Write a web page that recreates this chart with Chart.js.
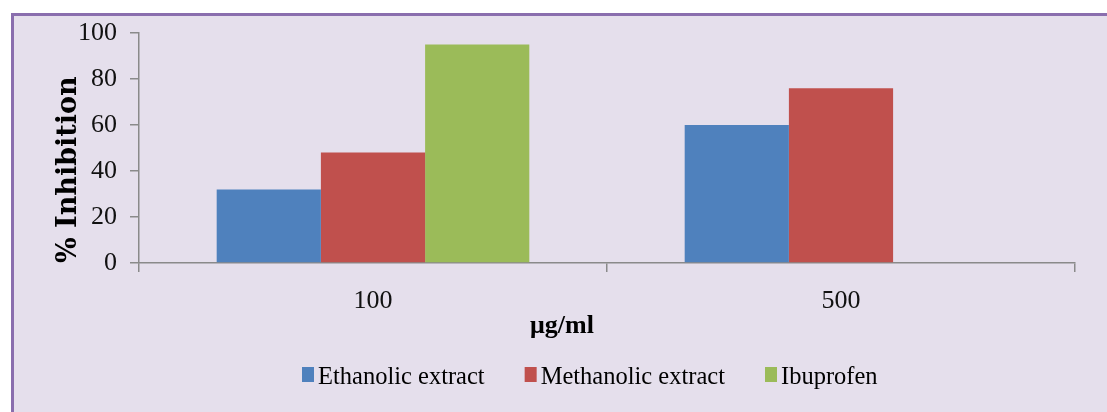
<!DOCTYPE html>
<html>
<head>
<meta charset="utf-8">
<title>% Inhibition</title>
<script src="https://cdn.jsdelivr.net/npm/chart.js@4.4.1/dist/chart.umd.min.js"></script>
<style>
  html, body { margin: 0; padding: 0; background: #ffffff; width: 1107px; height: 412px; overflow: hidden; }
  #panel {
    position: absolute; left: 11px; top: 13px; width: 1200px; height: 500px;
    background: #E5DFEC; border-left: 3px solid #8A6EAE; border-top: 3px solid #8A6EAE;
    box-sizing: border-box;
  }
  #c { position: absolute; left: 0; top: 0; }
</style>
</head>
<body>
<div id="panel"></div>
<canvas id="c" width="1107" height="412"></canvas>
<script>
// Concentrations on the category axis
const categories = ['100', '500'];

// % inhibition per extract
const ethanolic = [32, 60];
const methanolic = [48, 76];
const ibuprofen = [95, null];

const seriesNames = ['Ethanolic extract', 'Methanolic extract', 'Ibuprofen'];
const seriesColors = ['#4F81BD', '#C0504D', '#9BBB59'];

const yTickValues = [0, 20, 40, 60, 80, 100];
const xTitle = 'μg/ml';
const yTitle = '% Inhibition';

const seriesValues = [ethanolic, methanolic, ibuprofen];
const axisGray = '#8A8A8A';

// Axis caption under the category labels and a compact key row
const captionAndKey = {
  id: 'captionAndKey',
  afterDraw(chart) {
    const ctx = chart.ctx;
    ctx.save();
    ctx.fillStyle = '#000';
    ctx.font = 'bold 26px "Liberation Serif"';
    ctx.textAlign = 'center';
    ctx.textBaseline = 'alphabetic';
    ctx.fillText(xTitle, 562, 333);

    ctx.font = '24.5px "Liberation Serif"';
    ctx.textAlign = 'left';
    let x = 302;
    chart.data.datasets.forEach((ds) => {
      ctx.fillStyle = ds.backgroundColor;
      ctx.fillRect(x, 367, 12, 15);
      ctx.fillStyle = '#000';
      ctx.fillText(ds.label, x + 16, 384);
      x += 16 + ctx.measureText(ds.label).width + 40;
    });
    ctx.restore();
  }
};

new Chart(document.getElementById('c'), {
  type: 'bar',
  data: {
    labels: categories,
    datasets: seriesNames.map((name, i) => ({
      label: name,
      data: seriesValues[i],
      backgroundColor: seriesColors[i],
      borderWidth: 0,
      categoryPercentage: 0.668,
      barPercentage: 1.0
    }))
  },
  options: {
    responsive: false,
    animation: false,
    devicePixelRatio: 1,
    layout: { padding: { left: 55, right: 32, top: 33, bottom: 99 } },
    plugins: {
      legend: { display: false },
      tooltip: { enabled: false }
    },
    scales: {
      x: {
        offset: true,
        grid: {
          offset: true,
          drawOnChartArea: false,
          drawTicks: true,
          tickLength: 9,
          color: axisGray,
          lineWidth: 1.5
        },
        border: { display: true, color: axisGray, width: 1.5 },
        ticks: {
          color: '#111',
          font: { family: '"Liberation Serif"', size: 26 },
          padding: 14,
          maxRotation: 0
        },
        afterFit(scale) { scale.height = 50; }
      },
      y: {
        min: 0,
        max: 100,
        afterBuildTicks(scale) { scale.ticks = yTickValues.map(v => ({ value: v })); },
        grid: {
          drawOnChartArea: false,
          drawTicks: true,
          tickLength: 9,
          color: axisGray,
          lineWidth: 1.5
        },
        border: { display: true, color: axisGray, width: 1.5 },
        ticks: {
          color: '#111',
          font: { family: '"Liberation Serif"', size: 26 },
          padding: 13
        },
        title: {
          display: true,
          text: yTitle,
          align: 'start',
          color: '#000',
          padding: 0,
          font: { family: '"DejaVu Serif"', size: 27, weight: 'bold', lineHeight: 1 }
        },
        afterFit(scale) { scale.width = 84; }
      }
    }
  },
  plugins: [captionAndKey]
});
</script>
</body>
</html>
